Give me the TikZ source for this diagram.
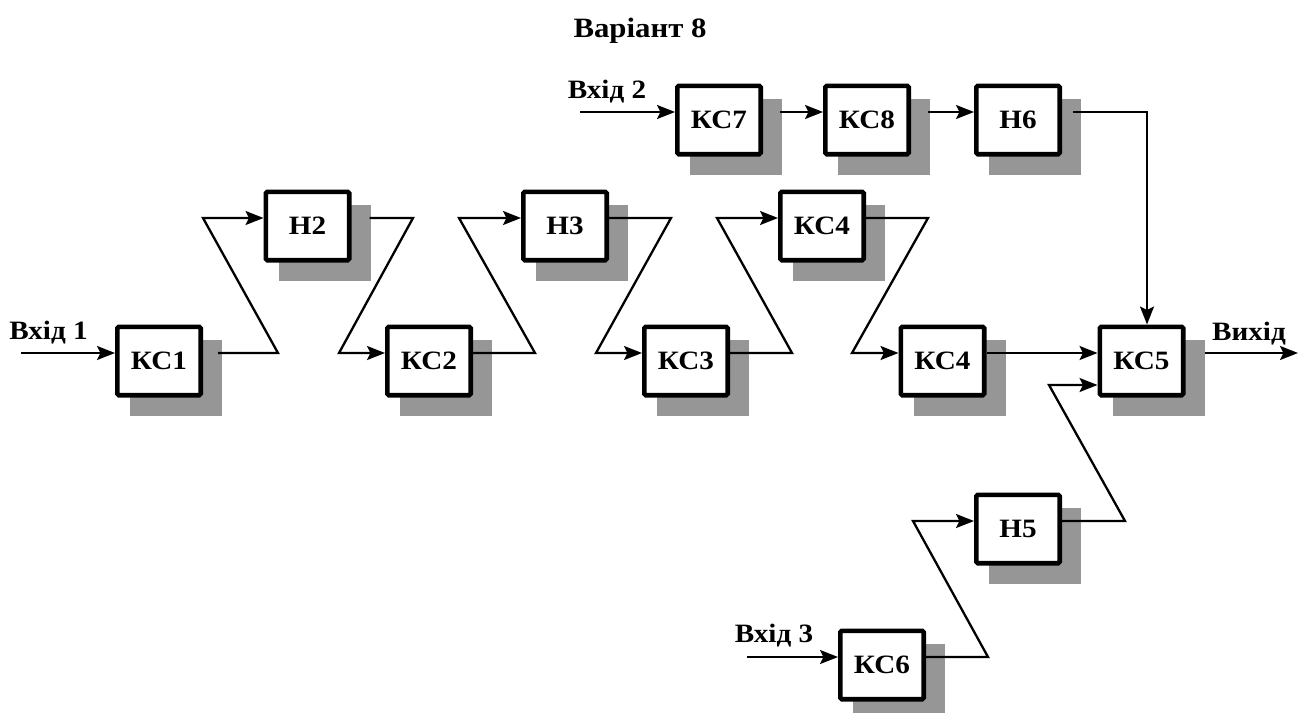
\documentclass[tikz,border=0pt]{standalone}
\usepackage{fontspec}
\setmainfont{Liberation Serif}[FakeStretch=1.1]
\usetikzlibrary{arrows.meta}
\definecolor{boxshadow}{RGB}{150,150,150}
\pgfdeclarelayer{bg}
\pgfsetlayers{bg,main}
\newcommand{\blkfont}{\bfseries\fontsize{26.5}{30}\selectfont}
\newcommand{\ttlfont}{\bfseries\fontsize{28}{32}\selectfont}
\tikzset{
  blk/.style={draw, line width=4.6pt, fill=white, rounded corners=1.5pt,
    minimum width=83.4pt, minimum height=68.4pt, inner sep=0pt, font=\blkfont},
  lbl/.style={anchor=base, inner sep=0pt, font=\blkfont},
  conn/.style={line width=2.3pt, line join=miter,
    -{Stealth[length=18pt,width=14pt,inset=3.5pt]}},
}
\begin{document}
\begin{tikzpicture}[x=1pt,y=-1pt]
\useasboundingbox (0,0) rectangle (1298,712);

% title
\node[anchor=base, inner sep=0pt, font=\ttlfont] (title) at (640,37) {Варіант 8};

% blocks
\node[blk] (KC1)  at (159,361)   {КС1};
\node[blk] (H2)   at (307.5,226) {Н2};
\node[blk] (KC2)  at (429,361)   {КС2};
\node[blk] (H3)   at (565,226)   {Н3};
\node[blk] (KC3)  at (686,361)   {КС3};
\node[blk] (KC4a) at (822,226)   {КС4};
\node[blk] (KC4b) at (942.5,361) {КС4};
\node[blk] (KC5)  at (1141.5,361){КС5};
\node[blk] (KC7)  at (719,120)   {КС7};
\node[blk] (KC8)  at (867,120)   {КС8};
\node[blk] (H6)   at (1018,120)  {Н6};
\node[blk] (H5)   at (1018,529)  {Н5};
\node[blk] (KC6)  at (882,665)   {КС6};

% drop shadows
\begin{pgfonlayer}{bg}
  \foreach \n in {KC1,H2,KC2,H3,KC3,KC4a,KC4b,KC5,KC7,KC8,H6,H5,KC6}
    \fill[boxshadow] ([shift={(15,15)}]\n.north west) rectangle ([shift={(19,18)}]\n.south east);
\end{pgfonlayer}

% inputs and output
\coordinate (in1) at (21,353);
\coordinate (in2) at (580,112);
\coordinate (in3) at (747,657);
\coordinate (out) at (1298,353);
\node[lbl] (lin1) at (48.5,339) {Вхід 1};
\node[lbl] (lin2) at (607,98)   {Вхід 2};
\node[lbl] (lin3) at (774,642)  {Вхід 3};
\node[lbl] (lout) at (1249,340) {Вихід};

% main chain
\draw[conn] (in1) -- ([yshift=8pt]KC1.west);
\draw[conn] ([xshift=15pt,yshift=8pt]KC1.east) -- (278,353) -- (203,218) -- ([yshift=8pt]H2.west);
\draw[conn] ([xshift=18pt,yshift=8pt]H2.east) -- (413,218) -- (339,353) -- ([yshift=8pt]KC2.west);
\draw[conn] ([yshift=8pt]KC2.east) -- (535,353) -- (459,218) -- ([yshift=8pt]H3.west);
\draw[conn] ([yshift=8pt]H3.east) -- (671,218) -- (596,353) -- ([yshift=8pt]KC3.west);
\draw[conn] ([yshift=8pt]KC3.east) -- (792,353) -- (717,218) -- ([yshift=8pt]KC4a.west);
\draw[conn] ([yshift=8pt]KC4a.east) -- (928,218) -- (852,353) -- ([yshift=8pt]KC4b.west);
\draw[conn] ([yshift=8pt]KC4b.east) -- ([yshift=8pt]KC5.west);
\draw[conn] ([xshift=19pt,yshift=8pt]KC5.east) -- (out);

% upper branch
\draw[conn] (in2) -- ([yshift=8pt]KC7.west);
\draw[conn] ([xshift=17pt,yshift=8pt]KC7.east) -- ([yshift=8pt]KC8.west);
\draw[conn] ([xshift=17pt,yshift=8pt]KC8.east) -- ([yshift=8pt]H6.west);
\draw[conn] ([xshift=11pt,yshift=8pt]H6.east) -| ([xshift=5.5pt]KC5.north);

% lower branch
\draw[conn] (in3) -- ([yshift=8pt]KC6.west);
\draw[conn] ([yshift=8pt]KC6.east) -- (988,657) -- (913,521) -- ([yshift=8pt]H5.west);
\draw[conn] ([yshift=8pt]H5.east) -- (1125,521) -- (1049,385) -- ([yshift=-24pt]KC5.west);
\end{tikzpicture}
\end{document}
